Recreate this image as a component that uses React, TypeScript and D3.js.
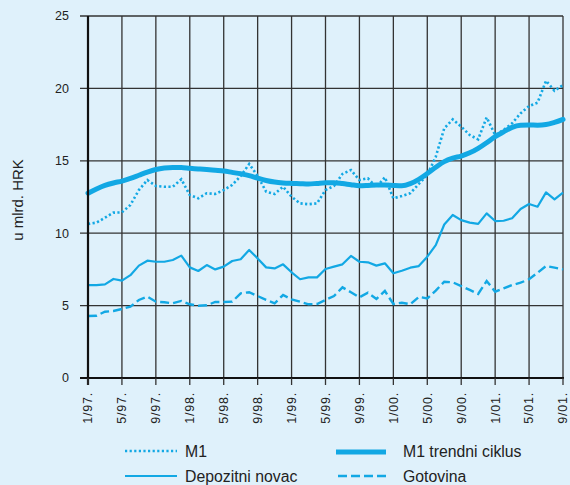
import * as d3 from 'd3'

// monthly values, 1/97. .. 9/01.
const m1 = [10.64, 10.73, 11.07, 11.42, 11.44, 11.95, 12.98, 13.67, 13.26, 13.21, 13.21, 13.72,
  12.64, 12.41, 12.76, 12.71, 12.98, 13.33, 13.95, 14.78, 13.95, 12.87, 12.71, 13.21,
  12.52, 12.06, 12.0, 12.06, 12.98, 13.26, 14.09, 14.36, 13.67, 13.79, 13.17, 13.86,
  12.41, 12.57, 12.76, 13.4, 14.02, 15.28, 17.24, 17.86, 17.36, 16.78, 16.48, 18.0,
  16.78, 17.13, 17.59, 18.28, 18.78, 19.01, 20.53, 19.84, 20.23]

const m1Trend = [12.76, 13.05, 13.3, 13.47, 13.6, 13.78, 14.0, 14.22, 14.4, 14.5, 14.54, 14.53,
  14.48, 14.44, 14.4, 14.35, 14.3, 14.2, 14.1, 13.98, 13.8, 13.64, 13.53, 13.47,
  13.44, 13.42, 13.4, 13.44, 13.48, 13.49, 13.43, 13.35, 13.28, 13.3, 13.33, 13.33,
  13.3, 13.28, 13.42, 13.72, 14.12, 14.55, 14.94, 15.18, 15.33, 15.55, 15.86, 16.25,
  16.67, 17.0, 17.31, 17.45, 17.47, 17.46, 17.5, 17.65, 17.86]

const deposits = [6.42, 6.42, 6.47, 6.84, 6.72, 7.1, 7.76, 8.1, 8.03, 8.03, 8.15, 8.45,
  7.64, 7.39, 7.8, 7.5, 7.69, 8.08, 8.2, 8.84, 8.26, 7.64, 7.57, 7.85,
  7.3, 6.82, 6.95, 6.95, 7.53, 7.69, 7.85, 8.43, 8.03, 7.99, 7.76, 7.92,
  7.23, 7.41, 7.62, 7.73, 8.38, 9.18, 10.6, 11.26, 10.9, 10.73, 10.64, 11.37,
  10.84, 10.86, 11.03, 11.67, 12.02, 11.83, 12.82, 12.34, 12.8]

const currency = [4.28, 4.3, 4.58, 4.63, 4.77, 4.93, 5.39, 5.62, 5.27, 5.23, 5.16, 5.32,
  5.09, 4.99, 5.02, 5.25, 5.25, 5.27, 5.85, 5.92, 5.66, 5.39, 5.16, 5.73,
  5.43, 5.27, 5.09, 5.11, 5.39, 5.66, 6.26, 5.92, 5.57, 5.89, 5.46, 6.01,
  5.11, 5.2, 5.09, 5.6, 5.5, 6.03, 6.65, 6.61, 6.35, 6.08, 5.8, 6.7,
  5.96, 6.19, 6.42, 6.58, 6.82, 7.27, 7.73, 7.62, 7.5]

const tickLabels = ['1/97.', '5/97.', '9/97.', '1/98.', '5/98.', '9/98.', '1/99.', '5/99.',
  '9/99.', '1/00.', '5/00.', '9/00.', '1/01.', '5/01.', '9/01.']
const yTicks = [0, 5, 10, 15, 20, 25]

const W = 570
const H = 485
const left = 88, right = 563, top = 16, bottom = 378
const blue = '#12a8e4'
const grid = '#333'
const font = 'Arial, "Liberation Sans", Helvetica, sans-serif'

export default function App() {
  const x = d3.scaleLinear().domain([0, m1.length - 1]).range([left, right])
  const y = d3.scaleLinear().domain([0, 25]).range([bottom, top])

  const line = d3.line<number>().x((_, i) => x(i)).y(d => y(d))
  const smooth = d3.line<number>().x((_, i) => x(i)).y(d => y(d)).curve(d3.curveMonotoneX)

  const xTicks = tickLabels.map((t, k) => ({ t, i: k * 4 }))

  return (
    <svg width={W} height={H} style={{ position: 'absolute', left: 0, top: 0, background: '#dff1fb' }}
      fontFamily={font}>
      <rect x={0} y={0} width={W} height={H} fill="#dff1fb" />

      {/* grid */}
      {yTicks.filter(v => v > 0).map(v => (
        <line key={'h' + v} x1={left - 8} x2={right} y1={y(v)} y2={y(v)} stroke={grid} strokeWidth={1.3} />
      ))}
      {xTicks.filter(d => d.i > 0).map(d => (
        <line key={'v' + d.i} x1={x(d.i)} x2={x(d.i)} y1={top} y2={bottom} stroke={grid} strokeWidth={1.3} />
      ))}

      {/* series */}
      <path d={line(m1)!} fill="none" stroke={blue} strokeWidth={2.6} strokeDasharray="2.2,2.4" />
      <path d={line(deposits)!} fill="none" stroke={blue} strokeWidth={2.2} strokeLinejoin="round" />
      <path d={line(currency)!} fill="none" stroke={blue} strokeWidth={2.4} strokeDasharray="9,4" />
      <path d={smooth(m1Trend)!} fill="none" stroke={blue} strokeWidth={5} strokeLinecap="round" />

      {/* axes */}
      <line x1={left} x2={left} y1={top} y2={bottom + 7} stroke="#111" strokeWidth={2.2} />
      <line x1={left - 8} x2={right + 1} y1={bottom} y2={bottom} stroke="#111" strokeWidth={2.2} />
      {xTicks.map(d => (
        <line key={'t' + d.i} x1={x(d.i)} x2={x(d.i)} y1={bottom} y2={bottom + 7} stroke={grid} strokeWidth={1.3} />
      ))}

      {yTicks.map(v => (
        <text key={'yl' + v} x={69} y={y(v)} dy="0.35em" textAnchor="end" fontSize={12.5} fill="#222">{v}</text>
      ))}
      {xTicks.map(d => (
        <text key={'xl' + d.i} transform={`translate(${x(d.i)},${bottom + 14}) rotate(-90)`}
          textAnchor="end" dy="0.35em" fontSize={12.5} letterSpacing={0.8} fill="#222">{d.t}</text>
      ))}

      <text transform={`translate(23,200) rotate(-90)`} textAnchor="middle" fontSize={15} fill="#222">u mlrd. HRK</text>

      {/* legend */}
      <g fontSize={15.8} fill="#222">
        <line x1={125} x2={177} y1={451} y2={451} stroke={blue} strokeWidth={2.4} strokeDasharray="2.2,2.4" />
        <text x={185} y={457}>M1</text>
        <line x1={336} x2={386} y1={452} y2={452} stroke={blue} strokeWidth={5} />
        <text x={403} y={457}>M1 trendni ciklus</text>
        <line x1={125} x2={177} y1={476} y2={476} stroke={blue} strokeWidth={2.2} />
        <text x={185} y={482}>Depozitni novac</text>
        <line x1={338} x2={386} y1={476} y2={476} stroke={blue} strokeWidth={2.4} strokeDasharray="9,4" />
        <text x={403} y={482}>Gotovina</text>
      </g>
    </svg>
  )
}
